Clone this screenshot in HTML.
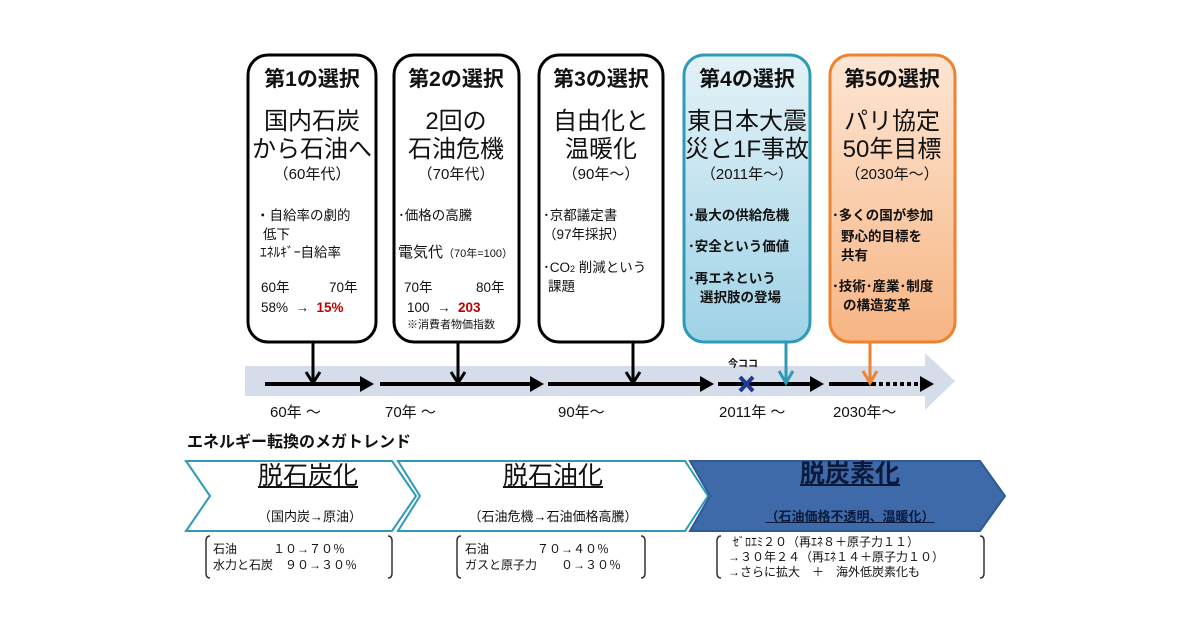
<!DOCTYPE html>
<html><head><meta charset="utf-8"><style>
body{margin:0;background:#fff;}
#c{position:relative;width:1200px;height:630px;overflow:hidden;font-family:"Liberation Sans","Noto Sans CJK JP",sans-serif;color:#111;}
.t{position:absolute;white-space:nowrap;line-height:1;}
.c{transform:translateX(-50%);text-align:center;}
.h{font-weight:bold;font-size:21px;}
.m{font-size:24px;}
.s{font-size:15px;}
.p{font-size:13.5px;}
.bp{font-size:13.5px;font-weight:bold;}
.r{color:#c00000;font-weight:bold;}
.u{text-decoration:underline;}
</style></head><body><div id="c">
<svg width="1200" height="630" style="position:absolute;left:0;top:0">
<defs>
<linearGradient id="g4" x1="0" y1="0" x2="0" y2="1"><stop offset="0" stop-color="#e4f2f8"/><stop offset="1" stop-color="#9fd2e6"/></linearGradient>
<linearGradient id="g5" x1="0" y1="0" x2="0" y2="1"><stop offset="0" stop-color="#fde6d4"/><stop offset="1" stop-color="#f7b583"/></linearGradient>
</defs>
<rect x="248" y="55" width="128" height="287" rx="20" fill="#fff" stroke="#000" stroke-width="3"/>
<rect x="394" y="55" width="125" height="287" rx="20" fill="#fff" stroke="#000" stroke-width="3"/>
<rect x="539" y="55" width="124" height="287" rx="20" fill="#fff" stroke="#000" stroke-width="3"/>
<rect x="684" y="55" width="126" height="287" rx="20" fill="url(#g4)" stroke="#2e9ab8" stroke-width="3"/>
<rect x="830" y="55" width="125" height="287" rx="20" fill="url(#g5)" stroke="#ee8230" stroke-width="3"/>
<polygon points="245,366 925,366 925,353 955,381 925,410 925,396 245,396" fill="#d5dcea"/>
<g stroke="#000" stroke-width="4">
<line x1="265" y1="384" x2="362" y2="384"/><line x1="380" y1="384" x2="532" y2="384"/>
<line x1="548" y1="384" x2="702" y2="384"/><line x1="718" y1="384" x2="812" y2="384"/>
<line x1="829" y1="384" x2="872" y2="384"/>
<line x1="872" y1="384" x2="922" y2="384" stroke-dasharray="4 3"/>
</g>
<g fill="#000">
<polygon points="360,376 374,384 360,392"/><polygon points="530,376 544,384 530,392"/>
<polygon points="700,376 714,384 700,392"/><polygon points="810,376 824,384 810,392"/>
<polygon points="920,376 934,384 920,392"/>
</g>
<g stroke="#000" stroke-width="3" fill="none">
<line x1="313" y1="342" x2="313" y2="383"/><polyline points="306,372 313,383 320,372"/>
<line x1="458" y1="342" x2="458" y2="383"/><polyline points="451,372 458,383 465,372"/>
<line x1="633" y1="342" x2="633" y2="383"/><polyline points="626,372 633,383 640,372"/>
</g>
<g stroke="#2e9ab8" stroke-width="3" fill="none"><line x1="786" y1="342" x2="786" y2="383"/><polyline points="779,371 786,383 793,371"/></g>
<g stroke="#ee8230" stroke-width="3" fill="none"><line x1="870" y1="342" x2="870" y2="383"/><polyline points="863,371 870,383 877,371"/></g>
<g stroke="#1f3a93" stroke-width="4"><line x1="740" y1="377" x2="753" y2="391"/><line x1="753" y1="377" x2="740" y2="391"/></g>
<polygon points="186,461 392,461 416,496 392,531 186,531 210,496" fill="#fff" stroke="#2e9ab8" stroke-width="2"/>
<polygon points="398,461 685,461 708,496 685,531 398,531 420,496" fill="#fff" stroke="#2e9ab8" stroke-width="2"/>
<polygon points="690,461 980,461 1005,496 980,531 690,531 710,496" fill="#3f6aa9" stroke="#2e5a96" stroke-width="2"/>
<g stroke="#333" stroke-width="1.5" fill="none">
<path d="M210,536 Q206,536 206,541 L206,573 Q206,578 210,578"/>
<path d="M388,536 Q392,536 392,541 L392,573 Q392,578 388,578"/>
<path d="M461,536 Q457,536 457,541 L457,573 Q457,578 461,578"/>
<path d="M641,536 Q645,536 645,541 L645,573 Q645,578 641,578"/>
<path d="M721,536 Q717,536 717,541 L717,573 Q717,578 721,578"/>
<path d="M980,536 Q984,536 984,541 L984,573 Q984,578 980,578"/>
</g>
</svg>

<div class="t c h" style="left:312px;top:69px">第1の選択</div>
<div class="t c m" style="left:312px;top:110px">国内石炭</div>
<div class="t c m" style="left:312px;top:138px">から石油へ</div>
<div class="t c s" style="left:312px;top:167px">（60年代）</div>
<div class="t p" style="left:256px;top:209px">・自給率の劇的</div>
<div class="t p" style="left:263px;top:228px">低下</div>
<div class="t p" style="left:260px;top:246px">ｴﾈﾙｷﾞｰ自給率</div>
<div class="t p" style="left:261px;top:281px">60年</div>
<div class="t p" style="left:329px;top:281px">70年</div>
<div class="t p" style="left:261px;top:301px">58% &nbsp;→ &nbsp;<span class="r">15%</span></div>

<div class="t c h" style="left:456px;top:69px">第2の選択</div>
<div class="t c m" style="left:456px;top:110px">2回の</div>
<div class="t c m" style="left:456px;top:138px">石油危機</div>
<div class="t c s" style="left:456px;top:167px">（70年代）</div>
<div class="t p" style="left:398px;top:209px">･価格の高騰</div>
<div class="t" style="left:398px;top:245px;font-size:15px">電気代<span style="font-size:11px">（70年=100）</span></div>
<div class="t p" style="left:404px;top:281px">70年</div>
<div class="t p" style="left:476px;top:281px">80年</div>
<div class="t p" style="left:407px;top:301px">100 &nbsp;→ &nbsp;<span class="r">203</span></div>
<div class="t" style="left:407px;top:320px;font-size:11px">※消費者物価指数</div>

<div class="t c h" style="left:601px;top:69px">第3の選択</div>
<div class="t c m" style="left:601px;top:110px">自由化と</div>
<div class="t c m" style="left:601px;top:138px">温暖化</div>
<div class="t c s" style="left:601px;top:167px">（90年～）</div>
<div class="t p" style="left:543px;top:209px">･京都議定書</div>
<div class="t p" style="left:543px;top:228px">（97年採択）</div>
<div class="t p" style="left:543px;top:261px">･CO<span style="font-size:9px">2</span> 削減という</div>
<div class="t p" style="left:548px;top:280px">課題</div>

<div class="t c h" style="left:747px;top:69px">第4の選択</div>
<div class="t c m" style="left:747px;top:110px">東日本大震</div>
<div class="t c m" style="left:747px;top:138px">災と1F事故</div>
<div class="t c s" style="left:747px;top:167px">（2011年～）</div>
<div class="t bp" style="left:688px;top:209px">･最大の供給危機</div>
<div class="t bp" style="left:688px;top:240px">･安全という価値</div>
<div class="t bp" style="left:688px;top:272px">･再エネという</div>
<div class="t bp" style="left:700px;top:291px">選択肢の登場</div>

<div class="t c h" style="left:892px;top:69px">第5の選択</div>
<div class="t c m" style="left:892px;top:110px">パリ協定</div>
<div class="t c m" style="left:892px;top:138px">50年目標</div>
<div class="t c s" style="left:892px;top:167px">（2030年～）</div>
<div class="t bp" style="left:832px;top:209px">･多くの国が参加</div>
<div class="t bp" style="left:841px;top:230px">野心的目標を</div>
<div class="t bp" style="left:841px;top:249px">共有</div>
<div class="t bp" style="left:832px;top:280px">･技術･産業･制度</div>
<div class="t bp" style="left:843px;top:299px">の構造変革</div>

<div class="t" style="left:728px;top:360px;font-size:10px;font-weight:bold">今ココ</div>
<div class="t s" style="left:270px;top:405px">60年 ～</div>
<div class="t s" style="left:385px;top:405px">70年 ～</div>
<div class="t s" style="left:558px;top:405px">90年～</div>
<div class="t s" style="left:719px;top:405px">2011年 ～</div>
<div class="t s" style="left:833px;top:405px">2030年～</div>

<div class="t" style="left:187px;top:435px;font-size:16px;font-weight:bold">エネルギー転換のメガトレンド</div>

<div class="t c u" style="left:308px;top:464px;font-size:25px">脱石炭化</div>
<div class="t c u" style="left:553px;top:464px;font-size:25px">脱石油化</div>
<div class="t c u" style="left:850px;top:462px;font-size:25px;font-weight:bold;color:#0b1a3a">脱炭素化</div>
<div class="t c" style="left:310px;top:510px;font-size:13px">（国内炭→原油）</div>
<div class="t c" style="left:553px;top:510px;font-size:13px">（石油危機→石油価格高騰）</div>
<div class="t c u" style="left:850px;top:510px;font-size:13px;font-weight:bold;color:#0b1a3a">（石油価格不透明、温暖化）</div>

<div class="t" style="left:213px;top:543px;font-size:12px">石油　　　１０→７０％</div>
<div class="t" style="left:213px;top:559px;font-size:12px">水力と石炭　９０→３０％</div>
<div class="t" style="left:465px;top:543px;font-size:12px">石油　　　　７０→４０％</div>
<div class="t" style="left:465px;top:559px;font-size:12px">ガスと原子力　　０→３０％</div>
<div class="t" style="left:733px;top:536px;font-size:12px">ｾﾞﾛｴﾐ２０（再ｴﾈ８＋原子力１１）</div>
<div class="t" style="left:728px;top:551px;font-size:12px">→３０年２４（再ｴﾈ１４＋原子力１０）</div>
<div class="t" style="left:728px;top:566px;font-size:12px">→さらに拡大　＋　海外低炭素化も</div>
</div></body></html>
